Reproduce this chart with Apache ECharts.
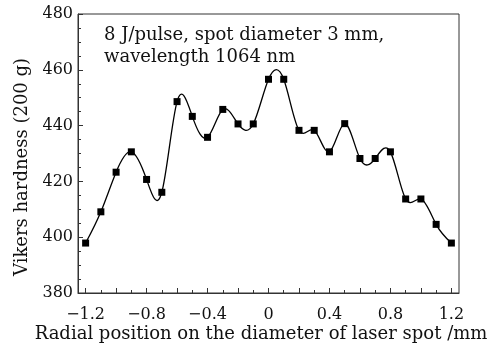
<!DOCTYPE html>
<html>
<head>
<meta charset="utf-8">
<script src="https://cdn.jsdelivr.net/npm/echarts@6/dist/echarts.min.js"></script>
<style>html,body{margin:0;padding:0;background:#fff}#c{width:500px;height:348px}</style>
</head>
<body>
<div id="c"></div>
<script>
var xValues = [-1.2,-1.1,-1.0,-0.9,-0.8,-0.7,-0.6,-0.5,-0.4,-0.3,-0.2,-0.1,0,0.1,0.2,0.3,0.4,0.5,0.6,0.7,0.8,0.9,1.0,1.1,1.2];
var hardness = [397.9,409.1,423.3,430.6,420.7,416.1,448.6,443.3,435.8,445.8,440.6,440.6,456.6,456.6,438.3,438.3,430.6,440.7,428.2,428.2,430.6,413.7,413.7,404.6,397.9];
var xLabelValues = [-1.2,-0.8,-0.4,0,0.4,0.8,1.2];
var xMajorTicks = [-1.2,-1.0,-0.8,-0.6,-0.4,-0.2,0,0.2,0.4,0.6,0.8,1.0,1.2];
var xMinorTicks = [-1.1,-0.9,-0.7,-0.5,-0.3,-0.1,0.1,0.3,0.5,0.7,0.9,1.1];
var yTickLabels = [380,400,420,440,460,480];
var titleLines = ['8 J/pulse, spot diameter 3 mm,', 'wavelength 1064 nm'];
var xTitle = 'Radial position on the diameter of laser spot /mm';
var yTitle = 'Vikers hardness (200 g)';

var FONT = 'DejaVu Serif';
var data = xValues.map(function(x,i){return [x, hardness[i]];});

// natural cubic spline slopes (curve geometry through the measured points)
function splineSlopes(xs, ys){
  var n = xs.length, h = [], i;
  for(i=0;i<n-1;i++) h.push(xs[i+1]-xs[i]);
  var M = new Array(n).fill(0);
  var a=[],b=[],c=[],d=[];
  for(i=1;i<n-1;i++){
    a.push(h[i-1]); b.push(2*(h[i-1]+h[i])); c.push(h[i]);
    d.push(6*((ys[i+1]-ys[i])/h[i]-(ys[i]-ys[i-1])/h[i-1]));
  }
  var m=b.length;
  for(i=1;i<m;i++){var w=a[i]/b[i-1]; b[i]-=w*c[i-1]; d[i]-=w*d[i-1];}
  var sol=new Array(m);
  sol[m-1]=d[m-1]/b[m-1];
  for(i=m-2;i>=0;i--) sol[i]=(d[i]-c[i]*sol[i+1])/b[i];
  for(i=0;i<m;i++) M[i+1]=sol[i];
  var s=[];
  for(i=0;i<n-1;i++) s.push((ys[i+1]-ys[i])/h[i]-h[i]*(2*M[i]+M[i+1])/6);
  s.push((ys[n-1]-ys[n-2])/h[n-2]+h[n-2]*(M[n-2]+2*M[n-1])/6);
  return s;
}
var slopes = splineSlopes(xValues, hardness);

var chart = echarts.init(document.getElementById('c'));
chart.setOption({
  animation:false,
  backgroundColor:'#fff',
  textStyle:{fontFamily:FONT,color:'#111'},
  graphic:[
    {type:'text', left:104, top:24, silent:true,
     style:{text:titleLines.join('\n'), font:'18px "DejaVu Serif"', fill:'#111', lineHeight:22}},
    {type:'text', x:261, y:334, silent:true,
     style:{text:xTitle, font:'18px "DejaVu Serif"', fill:'#111', align:'center', verticalAlign:'middle'}},
    {type:'text', x:22, y:167, rotation:Math.PI/2, silent:true,
     style:{text:yTitle, font:'18px "DejaVu Serif"', fill:'#111', align:'center', verticalAlign:'middle'}}
  ],
  grid:{left:78,right:41,top:14,bottom:55,show:true,borderColor:'#333',borderWidth:1,backgroundColor:'transparent'},
  xAxis:[{
    type:'value', min:-1.25, max:1.25, position:'bottom',
    axisLine:{show:true,onZero:false,lineStyle:{color:'#333',width:1}},
    axisTick:{show:true,inside:true,length:5,customValues:xMajorTicks,lineStyle:{color:'#333'}},
    axisLabel:{customValues:xLabelValues,fontFamily:FONT,fontSize:16,color:'#111',margin:14,
      formatter:function(v){return String(Math.round(v*10)/10).replace('-','\u2212');}},
    splitLine:{show:false}
  },{
    type:'value', min:-1.25, max:1.25, position:'bottom', offset:0,
    axisLine:{show:false,onZero:false},
    axisTick:{show:true,inside:true,length:3,customValues:xMinorTicks,lineStyle:{color:'#333'}},
    axisLabel:{show:false},
    splitLine:{show:false}
  }],
  yAxis:{
    type:'value', min:380, max:480, interval:20,
    axisLine:{show:true,onZero:false,lineStyle:{color:'#333'}},
    axisTick:{show:true,inside:true,length:5,lineStyle:{color:'#333'}},
    minorTick:{show:true,splitNumber:4,length:3,lineStyle:{color:'#333'}},
    axisLabel:{fontFamily:FONT,fontSize:16,color:'#111',margin:5},
    splitLine:{show:false}
  },
  series:[{
    type:'custom', data:data, xAxisIndex:0, yAxisIndex:0,
    encode:{x:0,y:1},
    renderItem:function(params, api){
      var i = params.dataIndex;
      if(i >= xValues.length-1) return null;
      var h = xValues[i+1]-xValues[i];
      var p0 = api.coord([xValues[i], hardness[i]]);
      var p1 = api.coord([xValues[i+1], hardness[i+1]]);
      var c0 = api.coord([xValues[i]+h/3, hardness[i]+slopes[i]*h/3]);
      var c1 = api.coord([xValues[i+1]-h/3, hardness[i+1]-slopes[i+1]*h/3]);
      return {type:'bezierCurve',
        shape:{x1:p0[0],y1:p0[1],cpx1:c0[0],cpy1:c0[1],cpx2:c1[0],cpy2:c1[1],x2:p1[0],y2:p1[1]},
        style:{stroke:'#000',lineWidth:1.3,fill:null}};
    },
    z:2
  },{
    type:'scatter', data:data, xAxisIndex:0, yAxisIndex:0,
    symbol:'rect', symbolSize:7,
    itemStyle:{color:'#000',opacity:1},
    z:3
  }]
});
</script>
</body>
</html>
